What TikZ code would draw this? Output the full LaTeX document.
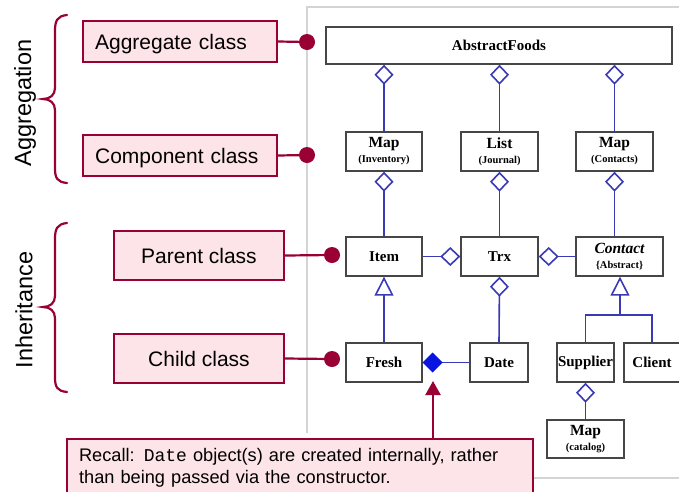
\documentclass[tikz,border=0pt]{standalone}
\usepackage{fontspec}
\setmainfont{Liberation Sans}
\newfontfamily\umlfont{Liberation Serif}
\newfontfamily\codefont{Liberation Mono}
\usetikzlibrary{arrows.meta}

\definecolor{maroon}{RGB}{153,0,51}
\definecolor{pinkfill}{RGB}{253,228,232}
\definecolor{umlblue}{RGB}{58,58,182}
\definecolor{solidblue}{RGB}{10,20,225}
\definecolor{boxgray}{RGB}{70,70,70}
\definecolor{framegray}{RGB}{212,212,212}

\newcommand{\fs}[2]{\fontsize{#1}{#2}\selectfont}

\tikzset{
  umlclass/.style={draw=boxgray, fill=white, line width=1.4pt, inner sep=0pt,
    minimum height=39pt, align=center, font=\umlfont\bfseries\fs{15}{15}},
  twoline/.style={font=\umlfont\bfseries\fs{10.5}{15}},
  link/.style={draw=umlblue, line width=1.6pt},
  agg/.style={link, -{Diamond[fill=white, length=20pt, width=19pt]}},
  inh/.style={link, -{Triangle[fill=white, length=19pt, width=19pt]}},
  comp/.style={link, -{Diamond[fill=solidblue, color=solidblue, length=20pt, width=20pt]}},
  label/.style={draw=maroon, fill=pinkfill, line width=2.2pt, inner sep=0pt,
    font=\fs{21}{24}, text height=15pt, text depth=0pt},
  pointer/.style={draw=maroon, line width=2.2pt},
  dot/.style={fill=maroon},
  bracket/.style={draw=maroon, line width=2.2pt, line cap=round},
  sidetitle/.style={rotate=90, font=\fs{23.5}{26}}
}

\begin{document}
\begin{tikzpicture}[x=1pt, y=-1pt]
\clip (0,0) rectangle (679,491);
\fill[white] (0,0) rectangle (679,491);

% panel frame around the class diagram
\draw[framegray, line width=1.2pt] (307,433) -- (307,7) -- (700,7);
\draw[framegray, line width=1.2pt] (530,478) -- (700,478);

% class boxes
\node[umlclass, minimum width=346pt, minimum height=37pt] (abs) at (499,45.5) {AbstractFoods};
\node[umlclass, twoline, minimum width=76pt] (inv) at (384,151.5) {{\fs{15.5}{15}Map}\\(Inventory)};
\node[umlclass, twoline, minimum width=77pt] (jrn) at (499.5,151.5) {{\fs{15.5}{15}List}\\(Journal)};
\node[umlclass, twoline, minimum width=77pt] (cts) at (614.5,151.5) {{\fs{15.5}{15}Map}\\(Contacts)};
\node[umlclass, minimum width=76pt] (item) at (384,256.5) {Item};
\node[umlclass, minimum width=77pt] (trx) at (499.5,256.5) {Trx};
\node[umlclass, twoline, minimum width=87pt] (contact) at (619.5,256.5) {{\fs{15.5}{15}\itshape Contact}\\\{Abstract\}};
\node[umlclass, minimum width=76pt] (fresh) at (384,362.5) {Fresh};
\node[umlclass, minimum width=58pt] (date) at (499,362.5) {Date};
\node[umlclass, minimum width=57pt] (supplier) at (585.5,362.5) {Supplier};
\node[umlclass, minimum width=56pt] (client) at (652,362.5) {Client};
\node[umlclass, twoline, minimum width=77pt, minimum height=38pt] (catalog) at (585.5,439) {{\fs{15.5}{15}Map}\\(catalog)};

% aggregation links
\draw[agg] (inv.north) -- (inv.north |- abs.south);
\draw[agg] (jrn.north) -- (jrn.north |- abs.south);
\draw[agg] (cts.north) -- (cts.north |- abs.south);
\draw[agg] (item.north) -- (inv.south);
\draw[agg] (trx.north) -- (jrn.south);
\draw[agg] (contact.north -| cts.south) -- (cts.south);
\draw[agg] (item.east) -- (trx.west);
\draw[agg] (contact.west) -- (trx.east);
\draw[agg] (date.north) -- (trx.south);
\draw[agg] (catalog.north) -- (supplier.south);

% inheritance links
\draw[inh] (fresh.north) -- (item.south);
\coordinate (split) at (620,315);
\draw[link] (supplier.north) |- (split) -| (client.north);
\draw[inh] (split) -- (split |- contact.south);

% composition link
\draw[comp] (date.west) -- (fresh.east);

% side labels and their markers
\node[label, anchor=west, minimum height=41pt, text width=170pt, inner xsep=12pt, align=left] (aggl) at (82,41.5) {Aggregate class};
\node[label, anchor=west, minimum height=41pt, text width=170pt, inner xsep=12pt, align=left] (compl) at (82,155.5) {Component class};
\node[label, minimum width=170pt, minimum height=49pt] (parl) at (199,255.5) {Parent class};
\node[label, minimum width=170pt, minimum height=49pt] (chil) at (199,358.5) {Child class};

\coordinate (d1) at (307,42);
\coordinate (d2) at (307,155);
\coordinate (d3) at (332,255);
\coordinate (d4) at (332,359);
\draw[pointer] (aggl.east) -- (d1);
\draw[pointer] (compl.east) -- (d2);
\draw[pointer] (parl.east) -- (d3);
\draw[pointer] (chil.east) -- (d4);
\fill[dot] (d1) circle (8);
\fill[dot] (d2) circle (8);
\fill[dot] (d3) circle (8);
\fill[dot] (d4) circle (8);

% braces
\draw[bracket] (67,15) .. controls (57,16) and (55,21) .. (55,31) -- (55,88)
  .. controls (55,95) and (50,99) .. (43,99)
  .. controls (50,99) and (55,103) .. (55,110) -- (55,168)
  .. controls (55,178) and (57,182) .. (67,183);
\draw[bracket] (67,223) .. controls (57,224) and (55,229) .. (55,239) -- (55,296)
  .. controls (55,303) and (50,307) .. (43,307)
  .. controls (50,307) and (55,311) .. (55,318) -- (55,377)
  .. controls (55,387) and (57,391) .. (67,392);
\node[sidetitle] (aggt) at (25,103) {Aggregation};
\node[sidetitle] (inht) at (24,310) {Inheritance};

% note at the bottom
\node[draw=maroon, fill=pinkfill, line width=2.2pt, anchor=north west, text width=442pt,
  inner xsep=12pt, inner ysep=9pt, align=left, font=\fs{18.2}{22}] (note) at (66,438)
  {Recall: {\codefont\fs{18}{22}Date} object(s) are created internally, rather than being passed via the constructor.\\[6pt]};
\coordinate (tip) at (433,381);
\draw[pointer, -{Triangle[length=14pt, width=15pt]}] (note.north -| tip) -- (tip);
\end{tikzpicture}
\end{document}
